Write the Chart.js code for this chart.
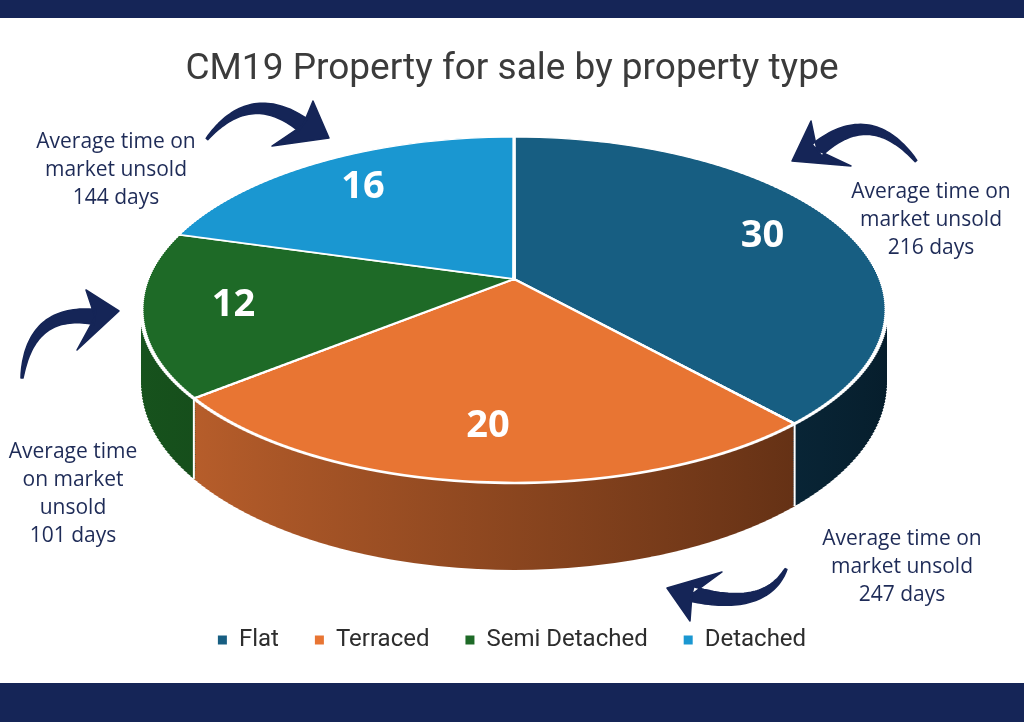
<!DOCTYPE html>
<html>
<head>
<meta charset="utf-8">
<title>CM19 Property for sale by property type</title>
<script src="https://cdn.jsdelivr.net/npm/chart.js@4.4.1/dist/chart.umd.min.js"></script>
<style>
  html, body { margin: 0; padding: 0; background: #fff; }
  #wrap { position: relative; width: 1024px; height: 722px; overflow: hidden; background: #fff; }
  #wrap canvas, #wrap svg { position: absolute; left: 0; top: 0; }
  .bar { position: absolute; left: 0; width: 1024px; background: #152557; }
  .note {
    position: absolute; transform: translateX(-50%);
    font-family: 'Open Sans', sans-serif; font-size: 21px; line-height: 28px;
    color: #1e2b57; text-align: center; white-space: nowrap;
  }
</style>
</head>
<body>
<div id="wrap">
  <canvas id="pieChart" width="1024" height="722"></canvas>
  <svg id="arrows" width="1024" height="722"></svg>
  <div class="bar" style="top:0;height:18px"></div>
  <div class="bar" style="top:683px;height:39px"></div>
</div>
<script>
// data
const categories = ['Flat', 'Terraced', 'Semi Detached', 'Detached'];
const listings = [30, 20, 12, 16];
const daysUnsold = [216, 247, 101, 144];

// colours: top face, and side wall gradient (left -> right)
const topColors = ['#175e82', '#e87533', '#1e6a27', '#1a97d1'];
const sideColors = [
    ['#154a69', '#061d2b'],
    ['#c3642e', '#522710'],
    ['#17531d', '#0b2c0e'],
    ['#14709c', '#083650']
];

// perspective view of the pie: y = (a*v + b) / (1 - k*v), x = cx + A*u / (1 - k*v)
const VIEW = { cx: 514, a: 117.5, b: 279, k: 0.179, A: 366.5, D: 71.4 };

// notes beside the pie, one per category
const notes = [
    { left: 931, top: 176, lines: ['Average time on', 'market unsold', '{d} days'] },
    { left: 902, top: 523, lines: ['Average time on', 'market unsold', '{d} days'] },
    { left: 73, top: 436, lines: ['Average time', 'on market', 'unsold', '{d} days'] },
    { left: 116, top: 126, lines: ['Average time on', 'market unsold', '{d} days'] }
];

// curved arrows pointing at the slices
const arrows = [
    { tail: [916, 161], ctrl: [870, 104], end: [817, 150], tip: [792, 161], w1: [811, 121], w2: [851, 166] },
    { tail: [786, 569], ctrl: [765, 612], end: [692, 594], tip: [667, 588], w1: [722, 572], w2: [690, 621] },
    { tail: [22, 378], ctrl: [30, 308], end: [95, 317], tip: [119, 311], w1: [86, 290], w2: [77, 350] },
    { tail: [207, 139], ctrl: [250, 86], end: [303, 125], tip: [329, 138], w1: [313, 101], w2: [272, 146] }
];

const wrap = document.getElementById('wrap');
notes.forEach((n, i) => {
    const div = document.createElement('div');
    div.className = 'note';
    div.style.left = n.left + 'px';
    div.style.top = n.top + 'px';
    div.innerHTML = n.lines.map(l => l.replace('{d}', daysUnsold[i])).join('<br>');
    wrap.appendChild(div);
});

function quad(p0, p1, p2, t) {
    const u = 1 - t;
    return [u * u * p0[0] + 2 * u * t * p1[0] + t * t * p2[0],
            u * u * p0[1] + 2 * u * t * p1[1] + t * t * p2[1]];
}

function arrowPath(a) {
    const n = 40, left = [], right = [];
    for (let i = 0; i <= n; i++) {
        const t = i / n;
        const p = quad(a.tail, a.ctrl, a.end, t);
        const q1 = quad(a.tail, a.ctrl, a.end, Math.min(1, t + 0.01));
        const q0 = quad(a.tail, a.ctrl, a.end, Math.max(0, t - 0.01));
        const tx = q1[0] - q0[0], ty = q1[1] - q0[1];
        const len = Math.hypot(tx, ty) || 1;
        const nx = -ty / len, ny = tx / len;
        const w = (2 + 13 * Math.pow(t, 0.8)) / 2;
        left.push([p[0] + nx * w, p[1] + ny * w]);
        right.push([p[0] - nx * w, p[1] - ny * w]);
    }
    const pts = left.concat(right.reverse());
    const body = 'M' + pts.map(p => p[0].toFixed(1) + ' ' + p[1].toFixed(1)).join(' L') + ' Z';
    const head = `M${a.tip[0]} ${a.tip[1]} L${a.w1[0]} ${a.w1[1]} L${a.end[0]} ${a.end[1]} L${a.w2[0]} ${a.w2[1]} Z`;
    return body + ' ' + head;
}

document.getElementById('arrows').innerHTML = arrows
    .map(a => `<path d="${arrowPath(a)}" fill="#152557" stroke="#152557" stroke-width="1.5" stroke-linejoin="round"/>`)
    .join('');

// screen point for unit-circle coords (u, v) on the plane offset b
function project(u, v, b) {
    const den = 1 - VIEW.k * v;
    return [VIEW.cx + VIEW.A * u / den, (VIEW.a * v + b) / den];
}

// draws the library's arcs through the perspective, a thin screen band at a time
function drawProjected(chart, arcs, b, yFrom, yTo, step, fills) {
    const ctx = chart.ctx;
    const { a, k, A, cx } = VIEW;
    const r0 = arcs[0].outerRadius, x0 = arcs[0].x, y0 = arcs[0].y;
    for (let ys = Math.floor(yFrom); ys < yTo; ys += step) {
        const ym = ys + step / 2;
        const v = (ym - b) / (a + k * ym);
        const den = 1 - k * v;
        const fy = (a * v + b) / den;
        const dfy = (a + k * b) / (den * den);
        ctx.save();
        ctx.beginPath();
        ctx.rect(0, ys, chart.width, step);
        ctx.clip();
        ctx.translate(cx, fy - dfy * v);
        ctx.scale(A / den / r0, dfy / r0);
        ctx.translate(-x0, -y0);
        arcs.forEach((arc, i) => {
            if (fills) {
                const opts = arc.options;
                arc.options = Object.assign({}, opts, { backgroundColor: fills[i], borderWidth: 0 });
                arc.draw(ctx);
                arc.options = opts;
            } else {
                arc.draw(ctx);
            }
        });
        ctx.restore();
    }
}

const pie3d = {
    id: 'pie3d',
    beforeDatasetsDraw(chart) {
        const ctx = chart.ctx;
        const arcs = chart.getDatasetMeta(0).data;
        const r0 = arcs[0].outerRadius, x0 = arcs[0].x;
        const { b, D } = VIEW;
        const grads = sideColors.map(c => {
            const g = ctx.createLinearGradient(x0 - r0, 0, x0 + r0, 0);
            g.addColorStop(0, c[0]);
            g.addColorStop(1, c[1]);
            return g;
        });
        // side wall: stacked copies of the front half, deepest first
        const layers = 44;
        for (let i = layers; i >= 1; i--) {
            const bt = b + D * i / layers;
            drawProjected(chart, arcs, bt, bt, project(0, 1, bt)[1] + 3, 3, grads);
        }
        // white seams on the wall where slices meet
        ctx.save();
        ctx.strokeStyle = '#ffffff';
        ctx.lineWidth = 2;
        arcs.forEach(arc => {
            const u = Math.cos(arc.endAngle), v = Math.sin(arc.endAngle);
            if (v > 0.05) {
                const p0 = project(u, v, b), p1 = project(u, v, b + D);
                ctx.beginPath();
                ctx.moveTo(p0[0], p0[1]);
                ctx.lineTo(p1[0], p1[1]);
                ctx.stroke();
            }
        });
        ctx.restore();
        // top face
        drawProjected(chart, arcs, b, project(0, -1, b)[1] - 4, project(0, 1, b)[1] + 4, 2, null);
        // value labels
        const values = chart.data.datasets[0].data;
        ctx.save();
        ctx.fillStyle = '#ffffff';
        ctx.font = 'bold 38px "Open Sans", sans-serif';
        ctx.textAlign = 'center';
        ctx.textBaseline = 'middle';
        arcs.forEach((arc, i) => {
            const mid = (arc.startAngle + arc.endAngle) / 2;
            const p = project(0.76 * Math.cos(mid), 0.76 * Math.sin(mid), b);
            ctx.fillText(String(values[i]), p[0], p[1]);
        });
        ctx.restore();
        return false;
    }
};

const ctx = document.getElementById('pieChart').getContext('2d');
new Chart(ctx, {
    type: 'pie',
    data: {
        labels: categories,
        datasets: [{
            data: listings,
            backgroundColor: topColors,
            borderColor: '#ffffff',
            borderWidth: 2.5,
            clip: false
        }]
    },
    options: {
        responsive: false,
        animation: false,
        events: [],
        layout: { padding: { bottom: 60 } },
        plugins: {
            title: {
                display: true,
                text: 'CM19 Property for sale by property type',
                color: '#3b3b3b',
                font: { family: 'Roboto', size: 37, weight: '400' },
                padding: { top: 48, bottom: 10 }
            },
            legend: {
                position: 'bottom',
                labels: {
                    boxWidth: 9,
                    boxHeight: 9,
                    padding: 36,
                    color: '#2d2d2d',
                    font: { family: 'Roboto', size: 24 },
                    generateLabels: (chart) => Chart.DoughnutController.overrides.plugins.legend.labels
                        .generateLabels(chart).map(l => Object.assign(l, { lineWidth: 0 }))
                }
            },
            tooltip: { enabled: false }
        }
    },
    plugins: [pie3d]
});
</script>
</body>
</html>
